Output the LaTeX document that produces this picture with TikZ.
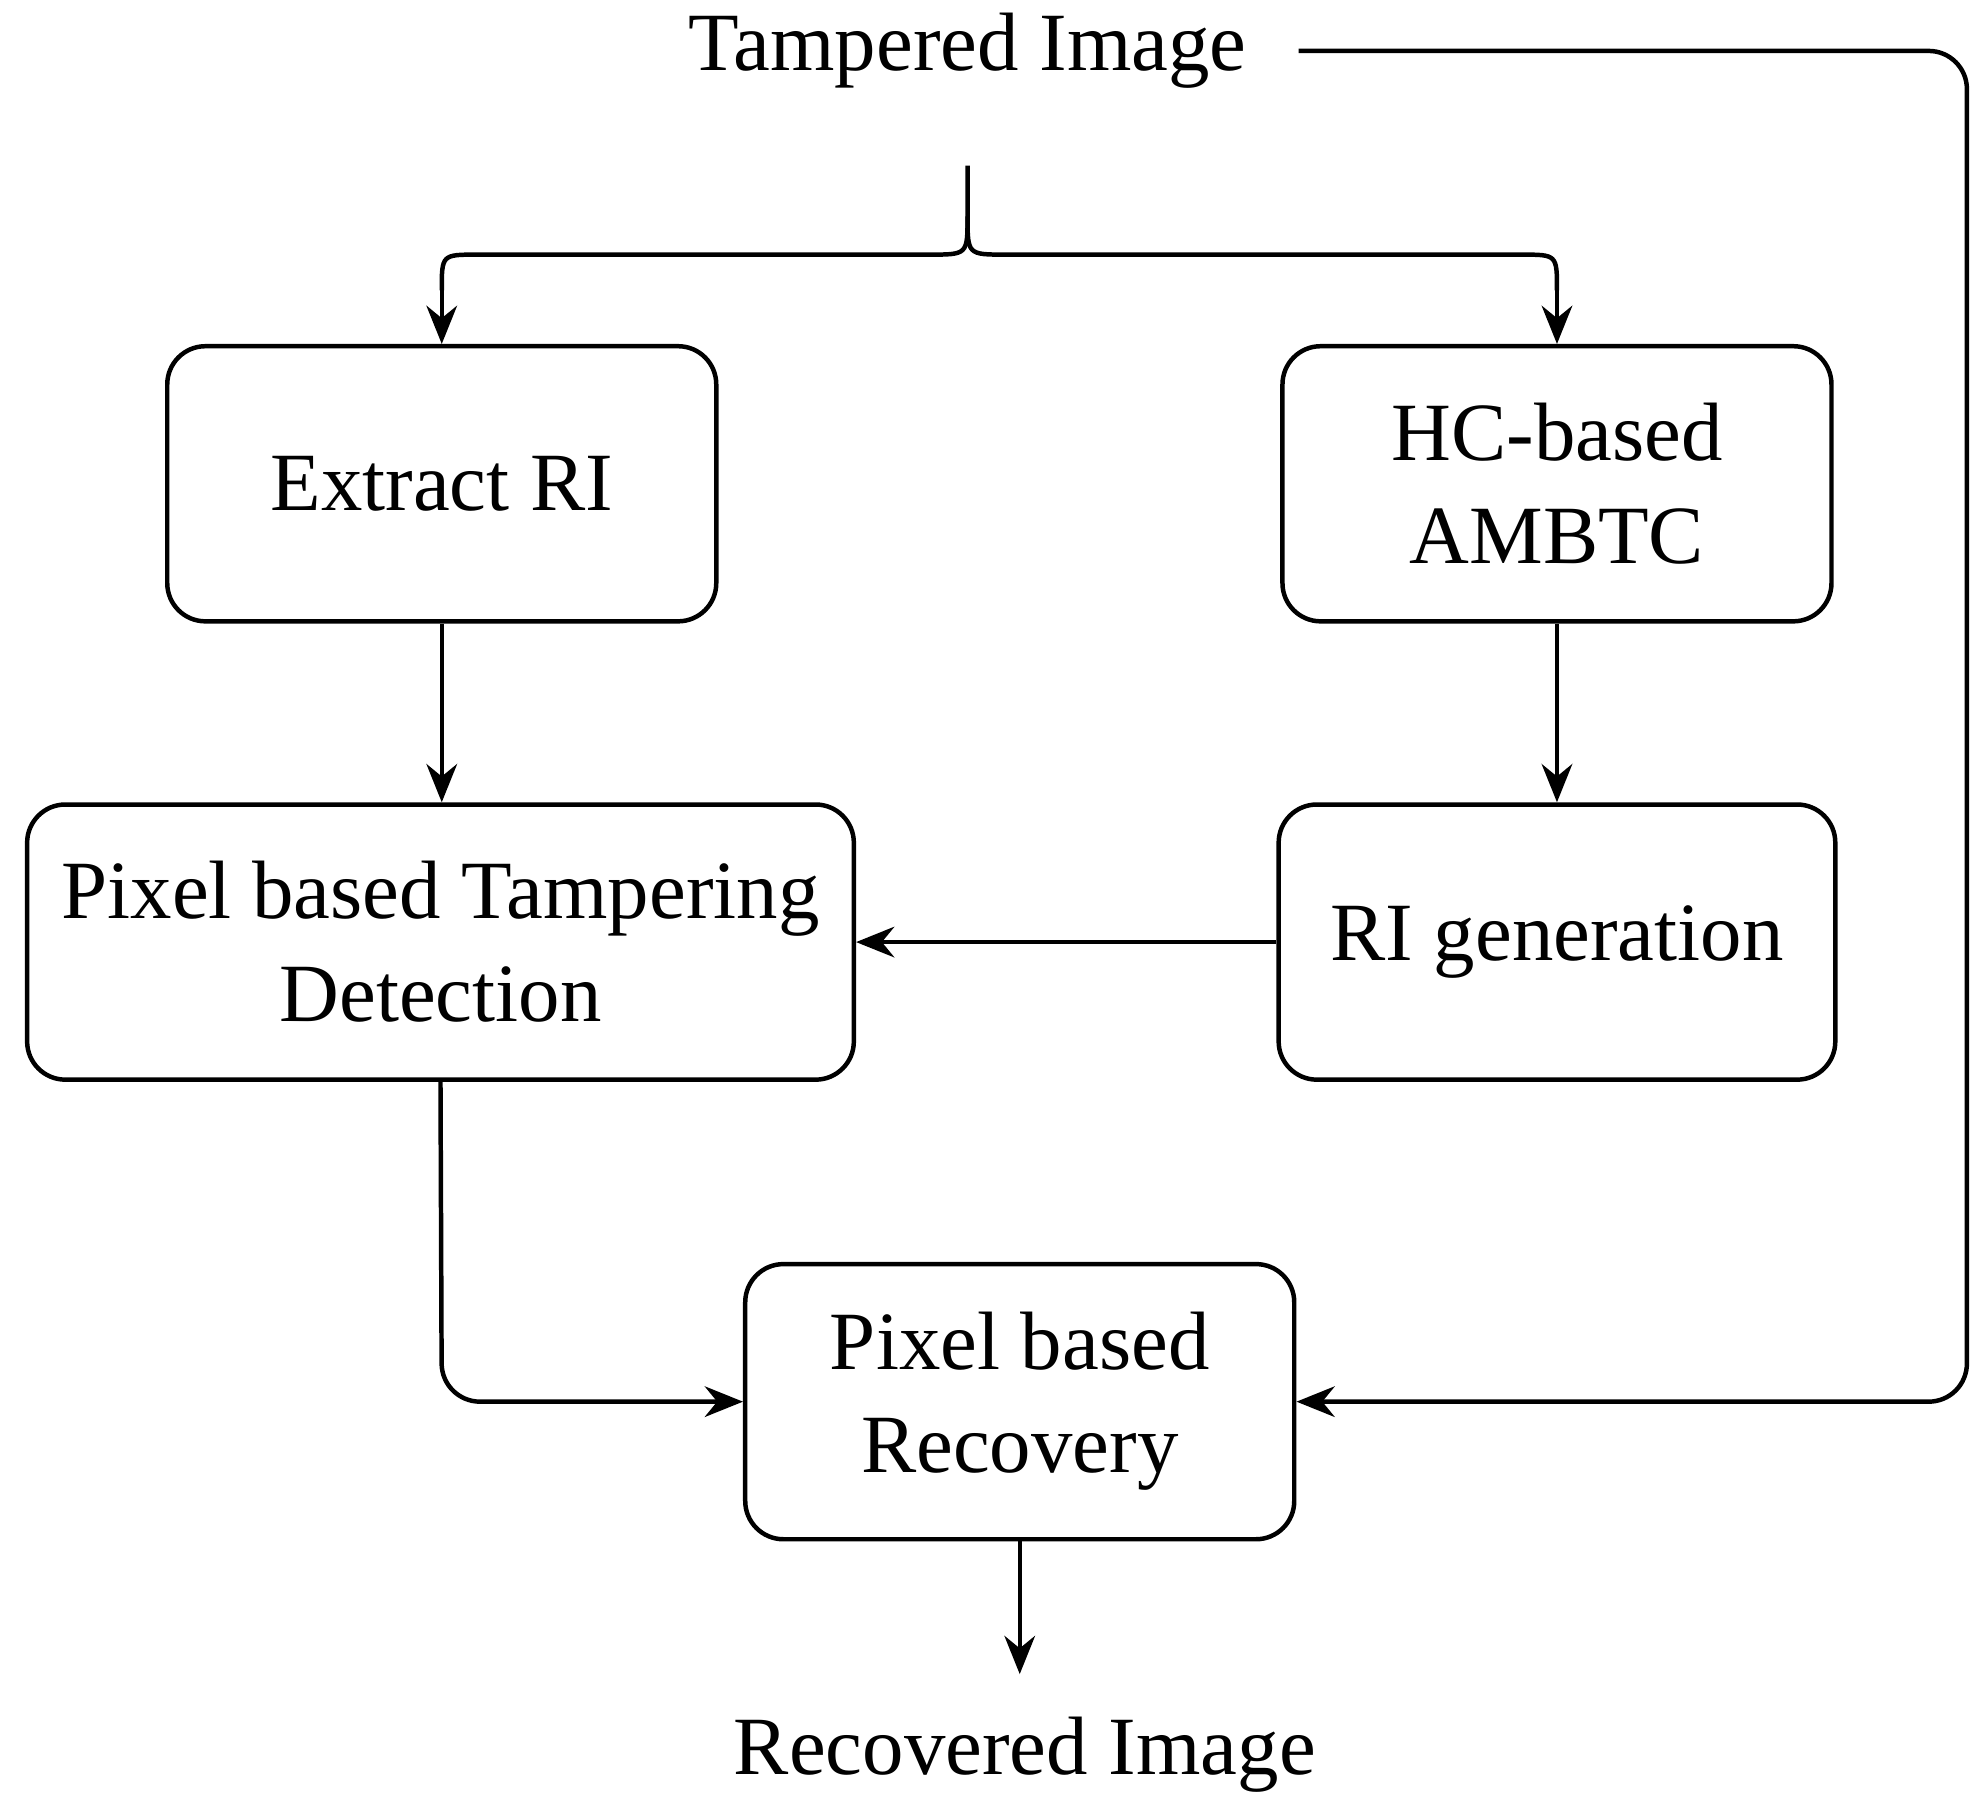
\documentclass[tikz,border=0pt]{standalone}
\usepackage{fontspec}
\setmainfont{Liberation Serif}
\usetikzlibrary{arrows.meta}
\begin{document}
\begin{tikzpicture}[x=0.01cm,y=-0.01cm,
  box/.style={draw,line width=1pt,rounded corners=0.3cm,minimum width=4.31cm,minimum height=2.16cm,align=center,inner sep=2pt,font=\fontsize{18.5}{23}\selectfont},
  lbl/.style={font=\fontsize{18.5}{23}\selectfont,inner sep=0pt},
  arr/.style={line width=1pt,-{Stealth[length=0.3cm,width=0.24cm]}},
  ln/.style={line width=1pt}]
\useasboundingbox (0,0) rectangle (1560,1415);
\node[box] (ex) at (347,380) {Extract RI};
\node[box] (hc) at (1223,380) {HC-based\\AMBTC};
\node[box,minimum width=6.49cm] (det) at (346,740) {Pixel based Tampering\\Detection};
\node[box,minimum width=4.37cm] (rig) at (1223,740) {RI generation};
\node[box] (rec) at (801,1101) {Pixel based\\Recovery};
\node[lbl] (ti) at (760,40) {Tampered Image};
\node[lbl] (ri) at (805,1378) {Recovered Image};
\coordinate (bt) at (760,130);
\coordinate (te) at (1020,40);
\coordinate (re) at (801,1315);
\draw[ln] (bt) -- (760,170) .. controls (760,200) .. (730,200) -- (375,200) .. controls (347,200) .. (347,228);
\draw[arr] (347,225) -- (ex.north);
\draw[ln] (760,170) .. controls (760,200) .. (790,200) -- (1195,200) .. controls (1223,200) .. (1223,228);
\draw[arr] (1223,225) -- (hc.north);
\draw[arr] (ex) -- (det.north-|ex);
\draw[arr] (hc) -- (rig.north-|hc);
\draw[arr] (rig) -- (det);
\draw[arr,rounded corners=0.3cm] (det.south) -- (347,1101) -- (rec.west);
\draw[arr,rounded corners=0.3cm] (te) -- (1545,40) -- (1545,1101) -- (rec.east);
\draw[arr] (rec) -- (re);
\end{tikzpicture}
\end{document}
